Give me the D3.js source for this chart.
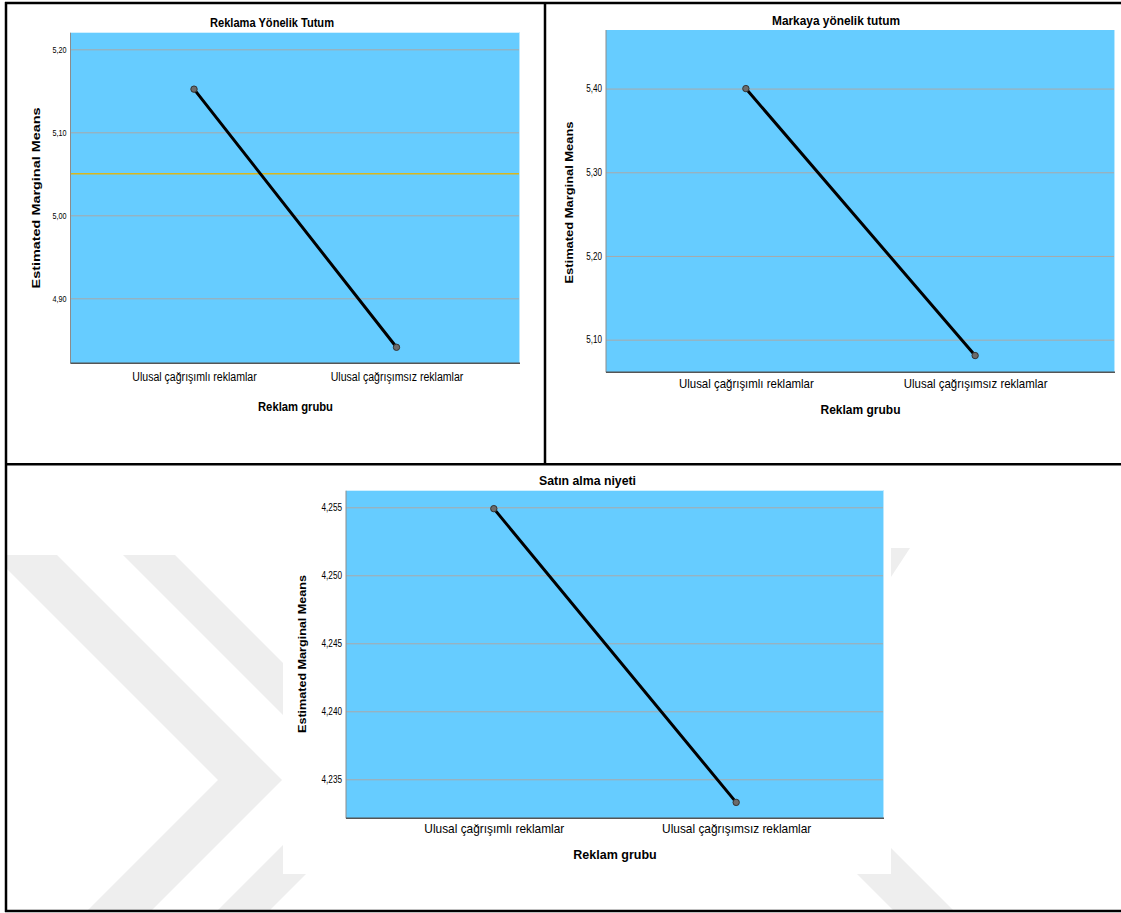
<!DOCTYPE html>
<html>
<head>
<meta charset="utf-8">
<script src="https://cdn.jsdelivr.net/npm/d3@7"></script>
<style>
  html, body { margin: 0; padding: 0; background: #ffffff; }
  svg { display: block; }
  text { font-family: "Liberation Sans", Arial, sans-serif; fill: #000; }
</style>
</head>
<body>
<svg id="chart" width="1121" height="913"></svg>
<script>
// ---------------- DATA ----------------
const categories = ["Ulusal çağrışımlı reklamlar", "Ulusal çağrışımsız reklamlar"];
const chartTitles = ["Reklama Yönelik Tutum", "Markaya yönelik tutum", "Satın alma niyeti"];
const xAxisTitle = "Reklam grubu";
const yAxisTitle = "Estimated Marginal Means";

const reklamaMeans = [5.152, 4.841];
const markayaMeans = [5.400, 5.081];
const satinMeans   = [4.2549, 4.2333];

const reklamaTicks = [4.90, 5.00, 5.10, 5.20];
const markayaTicks = [5.10, 5.20, 5.30, 5.40];
const satinTicks   = [4.235, 4.240, 4.245, 4.250, 4.255];

const reklamaDomain = [4.8217, 5.2200];
const markayaDomain = [5.0610, 5.4700];
const satinDomain   = [4.23213, 4.25622];

const reklamaRefLine = [5.05];

// ---------------- LAYOUT ----------------
const trLocale = d3.formatLocale({decimal: ",", thousands: ".", grouping: [3], currency: ["", ""]});

const panels = [
  { title: chartTitles[0], values: reklamaMeans, ticks: reklamaTicks, domain: reklamaDomain, refs: reklamaRefLine, fmt: ".2f",
    L: { l: 70.5, r: 520, t: 32.7, b: 363.3,
         titleX: 272, titleY: 27, titleW: 124, titleSize: 12.5,
         catY: 381.5, catSize: 12, catK: 0.88,
         xtX: 295.5, xtY: 410.5, xtW: 75, xtSize: 12.5,
         ytX: 39.6, ytY: 198, ytLen: 181, ytSize: 11.5,
         tickSize: 9, tickK: 0.8 } },
  { title: chartTitles[1], values: markayaMeans, ticks: markayaTicks, domain: markayaDomain, refs: [], fmt: ".2f",
    L: { l: 606, r: 1115, t: 30, b: 372.3,
         titleX: 836, titleY: 25, titleW: 128, titleSize: 12.5,
         catY: 388, catSize: 13, catK: 0.88,
         xtX: 860.5, xtY: 414, xtW: 80, xtSize: 12.5,
         ytX: 572.6, ytY: 202.5, ytLen: 162, ytSize: 11.5,
         tickSize: 10, tickK: 0.81 } },
  { title: chartTitles[2], values: satinMeans, ticks: satinTicks, domain: satinDomain, refs: [], fmt: ".3f",
    L: { l: 346, r: 884, t: 490.7, b: 818.3,
         titleX: 587.5, titleY: 484.5, titleW: 97, titleSize: 12.5,
         catY: 833, catSize: 13.5, catK: 0.88,
         xtX: 615, xtY: 859, xtW: 83.4, xtSize: 12.5,
         ytX: 306.4, ytY: 654, ytLen: 158, ytSize: 11.5,
         tickSize: 10, tickK: 0.82 } }
];

const svg = d3.select("#chart");

// ---------------- WATERMARK (bottom panel) ----------------
const wm = svg.append("g");
svg.append("clipPath").attr("id", "botClip").append("rect")
  .attr("x", 7).attr("y", 466).attr("width", 1114).attr("height", 444);
wm.attr("clip-path", "url(#botClip)");
function chevron(vx, vy, t, yt, yb) {
  return [[vx - (vy - yt), yt], [vx + t - (vy - yt), yt], [vx + t, vy],
          [vx + t - (yb - vy), yb], [vx - (yb - vy), yb], [vx, vy]];
}
const wmShapes = [
  chevron(218, 780, 64, 555, 912),
  chevron(348, 780, 52, 555, 912),
  [[743, 760], [803, 760], [955, 912], [895, 912]],
  [[891, 548], [910, 548], [891, 577]]
];
wm.selectAll("polygon").data(wmShapes).join("polygon")
  .attr("points", d => d.map(p => p.join(",")).join(" "))
  .attr("fill", "#eeeeee");

// white chart background of the bottom chart
svg.append("rect").attr("x", 283).attr("y", 467).attr("width", 608).attr("height", 407).attr("fill", "#ffffff");

// ---------------- helpers ----------------
function squeeze(sel, k) {
  sel.each(function() {
    const n = this.getComputedTextLength();
    d3.select(this).attr("textLength", n * k).attr("lengthAdjust", "spacingAndGlyphs");
  });
}
function fitTo(sel, w) {
  sel.attr("textLength", w).attr("lengthAdjust", "spacingAndGlyphs");
}

// ---------------- PANELS ----------------
panels.forEach(p => {
  const L = p.L;
  const g = svg.append("g");
  const x = d3.scalePoint().domain(categories).range([L.l, L.r]).padding(0.61);
  const y = d3.scaleLinear().domain(p.domain).range([L.b, L.t]);
  const fmt = trLocale.format(p.fmt);

  // plot background
  g.append("rect").attr("x", L.l).attr("y", L.t).attr("width", L.r - L.l).attr("height", L.b - L.t)
    .attr("fill", "#66ccff");

  // gridlines
  const grid = g.append("g").attr("transform", `translate(${L.l},0)`)
    .call(d3.axisLeft(y).tickValues(p.ticks).tickSize(-(L.r - L.l)).tickFormat(""));
  grid.select(".domain").remove();
  grid.selectAll("line").attr("stroke", "#a9a9a9").attr("stroke-width", 1);

  // reference lines
  g.selectAll(".ref").data(p.refs).join("line").attr("class", "ref")
    .attr("x1", L.l).attr("x2", L.r).attr("y1", d => y(d)).attr("y2", d => y(d))
    .attr("stroke", "#d9b61c").attr("stroke-width", 1.4);

  // frame edges
  g.append("line").attr("x1", L.r - 0.5).attr("x2", L.r - 0.5).attr("y1", L.t).attr("y2", L.b)
    .attr("stroke", "#b9e8ff").attr("stroke-width", 1);
  g.append("line").attr("x1", L.l).attr("x2", L.l).attr("y1", L.t).attr("y2", L.b)
    .attr("stroke", "#8c8c8c").attr("stroke-width", 1);
  g.append("line").attr("x1", L.l).attr("x2", L.r).attr("y1", L.b).attr("y2", L.b)
    .attr("stroke", "#555555").attr("stroke-width", 1.5);

  // y tick labels
  const ya = g.append("g").attr("transform", `translate(${L.l},0)`)
    .call(d3.axisLeft(y).tickValues(p.ticks).tickSize(0).tickPadding(4).tickFormat(fmt));
  ya.select(".domain").remove();
  ya.selectAll("text").attr("font-size", L.tickSize).attr("fill", "#222")
    .style("font-family", '"Liberation Sans", Arial, sans-serif');
  squeeze(ya.selectAll("text"), L.tickK);

  // x category labels
  const xa = g.append("g").attr("transform", `translate(0,${L.b})`)
    .call(d3.axisBottom(x).tickSize(0));
  xa.select(".domain").remove();
  xa.selectAll("text").attr("y", L.catY - L.b).attr("dy", null)
    .attr("font-size", L.catSize).attr("fill", "#333")
    .style("font-family", '"Liberation Sans", Arial, sans-serif');
  squeeze(xa.selectAll("text"), L.catK);

  // line + markers
  const pts = categories.map((c, i) => [x(c), y(p.values[i])]);
  g.append("path").attr("d", d3.line()(pts)).attr("fill", "none")
    .attr("stroke", "#000").attr("stroke-width", 3).attr("stroke-linecap", "round");
  g.selectAll(".pt").data(categories).join("circle").attr("class", "pt")
    .attr("cx", c => x(c)).attr("cy", (c, i) => y(p.values[i])).attr("r", 3.2)
    .attr("fill", "#6b6b6b").attr("stroke", "#333").attr("stroke-width", 1);

  // title
  g.append("text").attr("x", L.titleX).attr("y", L.titleY).attr("text-anchor", "middle")
    .attr("font-size", L.titleSize).attr("font-weight", "bold").text(p.title)
    .call(fitTo, L.titleW);
  // x title
  g.append("text").attr("x", L.xtX).attr("y", L.xtY).attr("text-anchor", "middle")
    .attr("font-size", L.xtSize).attr("font-weight", "bold").text(xAxisTitle)
    .call(fitTo, L.xtW);
  // y title
  g.append("text").attr("transform", `translate(${L.ytX},${L.ytY}) rotate(-90)`)
    .attr("text-anchor", "middle").attr("font-size", L.ytSize).attr("font-weight", "bold")
    .text(yAxisTitle).call(fitTo, L.ytLen);
});

// ---------------- PAGE FRAME ----------------
const frame = svg.append("g").attr("stroke", "#000").attr("stroke-width", 2.5).attr("fill", "none");
frame.append("line").attr("x1", 6).attr("x2", 6).attr("y1", 2).attr("y2", 912);
frame.append("line").attr("x1", 5).attr("x2", 1121).attr("y1", 3).attr("y2", 3);
frame.append("line").attr("x1", 5).attr("x2", 1121).attr("y1", 911).attr("y2", 911);
frame.append("line").attr("x1", 5).attr("x2", 1121).attr("y1", 464.3).attr("y2", 464.3);
frame.append("line").attr("x1", 545).attr("x2", 545).attr("y1", 3).attr("y2", 464);
</script>
</body>
</html>
